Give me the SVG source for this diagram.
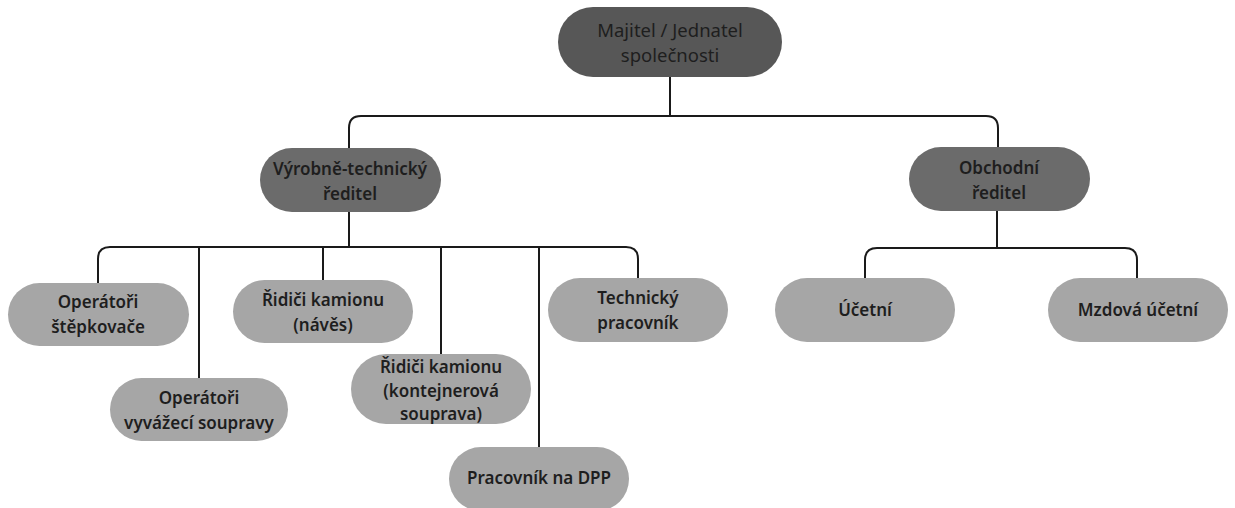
<svg xmlns="http://www.w3.org/2000/svg" width="1235" height="508" viewBox="0 0 1235 508">
<style>
.top{fill:#575757}
.mid{fill:#6b6b6b}
.leaf{fill:#a6a6a6}
text{font-family:"Noto Sans","Open Sans",sans-serif;text-anchor:middle;fill:#1e1e1e}
.t1{font-size:18.5px;font-weight:400}
.t2{font-size:17px;font-weight:600}
.c{fill:none;stroke:#1a1a1a;stroke-width:2}
</style>
<rect width="1235" height="508" fill="#ffffff"/>
<g id="connectors">
<path class="c" d="M670 77 V116"/>
<path class="c" d="M349 148 V128 Q349 116 361 116 H986 Q998 116 998 128 V147"/>
<path class="c" d="M349 212 V247"/>
<path class="c" d="M98 283 V259 Q98 247 110 247 H626 Q638 247 638 259 V278"/>
<path class="c" d="M199 247 V378"/>
<path class="c" d="M323 247 V280"/>
<path class="c" d="M441 247 V354"/>
<path class="c" d="M539 247 V447"/>
<path class="c" d="M997 211 V248"/>
<path class="c" d="M865 278 V260 Q865 248 877 248 H1125 Q1137 248 1137 260 V278"/>
</g>
<g id="n-majitel"><rect class="top" x="558" y="7" width="224" height="70" rx="35"/><text class="t1" x="670" y="37">Majitel / Jednatel</text><text class="t1" x="670" y="62">společnosti</text></g>
<g id="n-vyrobne"><rect class="mid" x="260" y="148" width="181" height="64" rx="32"/><text class="t2" x="350" y="175">Výrobně-technický</text><text class="t2" x="350" y="200">ředitel</text></g>
<g id="n-obchodni"><rect class="mid" x="909" y="147" width="181" height="64" rx="32"/><text class="t2" x="999" y="174">Obchodní</text><text class="t2" x="999" y="199">ředitel</text></g>
<g id="n-stepkovace"><rect class="leaf" x="8" y="283" width="181" height="63" rx="31.5"/><text class="t2" x="98" y="308">Operátoři</text><text class="t2" x="98" y="333">štěpkovače</text></g>
<g id="n-vyvazeci"><rect class="leaf" x="110" y="378" width="178" height="63" rx="31.5"/><text class="t2" x="199" y="404">Operátoři</text><text class="t2" x="199" y="429">vyvážecí soupravy</text></g>
<g id="n-naves"><rect class="leaf" x="233" y="280" width="180" height="63" rx="31.5"/><text class="t2" x="323" y="306">Řidiči kamionu</text><text class="t2" x="323" y="331">(návěs)</text></g>
<g id="n-kontejner"><rect class="leaf" x="351" y="354" width="180" height="70" rx="35"/><text class="t2" x="441" y="373">Řidiči kamionu</text><text class="t2" x="441" y="397">(kontejnerová</text><text class="t2" x="441" y="420">souprava)</text></g>
<g id="n-dpp"><rect class="leaf" x="449" y="447" width="180" height="64" rx="32"/><text class="t2" x="539" y="484">Pracovník na DPP</text></g>
<g id="n-technicky"><rect class="leaf" x="548" y="278" width="180" height="64" rx="32"/><text class="t2" x="638" y="304">Technický</text><text class="t2" x="638" y="329">pracovník</text></g>
<g id="n-ucetni"><rect class="leaf" x="775" y="278" width="180" height="64" rx="32"/><text class="t2" x="865" y="316">Účetní</text></g>
<g id="n-mzdova"><rect class="leaf" x="1048" y="278" width="180" height="64" rx="32"/><text class="t2" x="1138" y="316">Mzdová účetní</text></g>
</svg>
